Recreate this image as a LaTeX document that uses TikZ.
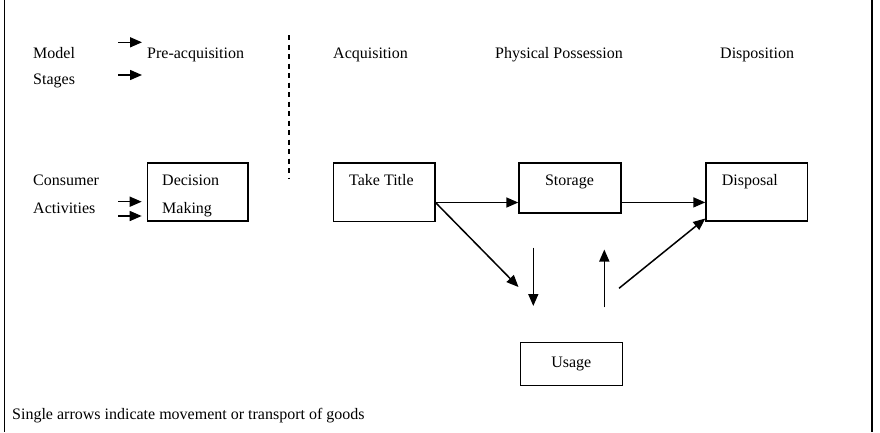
\documentclass[tikz,border=0pt]{standalone}
\usepackage{fontspec}
\setmainfont{Liberation Serif}
\usetikzlibrary{arrows.meta,calc}
\begin{document}
\begin{tikzpicture}[x=1pt,y=-1pt,
  txt/.style={font=\fontsize{16}{19}\selectfont, inner sep=0pt, anchor=base west},
  box/.style={draw, line width=1.5pt, inner sep=0pt, anchor=north west},
  arr/.style={line width=1.5pt, -{Triangle[length=12pt,width=10pt]}},
  frameline/.style={line width=1.4pt},
  divider/.style={line width=1.8pt, dash pattern=on 5pt off 4.5pt}]
\useasboundingbox (0,0) rectangle (880,432);
% side frame lines
\draw[frameline] (4.5,0) -- (4.5,432);
\draw[frameline] (872,0) -- (872,432);

% header texts
\node[txt] (model) at (33,58) {Model};
\node[txt] (stages) at (33,84.5) {Stages};
\node[txt] (pre) at (147,58) {Pre-acquisition};
\node[txt] (acq) at (333,58) {Acquisition};
\node[txt] (phys) at (495,58) {Physical Possession};
\node[txt] (disp) at (720,58) {Disposition};
\node[txt] (cons) at (33,185) {Consumer};
\node[txt] (act) at (33,213) {Activities};

% model stage arrows
\coordinate (m1s) at (118,42.3);
\coordinate (m1e) at (142,42.3);
\coordinate (m2s) at (118,75);
\coordinate (m2e) at (142,75);
\draw[arr] (m1s) -- (m1e);
\draw[arr] (m2s) -- (m2e);

% dashed divider
\coordinate (d1) at (289,35);
\coordinate (d2) at (289,178);
\draw[divider] (d1) -- (d2);

% boxes
\node[box, minimum width=100.6pt, minimum height=57.7pt] (dm) at (146.7,162.3) {};
\node[txt] (dmt1) at (162,185) {Decision};
\node[txt] (dmt2) at (162,213) {Making};

\node[box, minimum width=101.5pt, minimum height=58.5pt] (tt) at (332.5,162.3) {};
\node[txt] (ttt) at (349,185.5) {Take Title};

\node[box, minimum width=101.7pt, minimum height=49.7pt] (st) at (518.3,162.3) {};
\node[txt, anchor=base] (stt) at (569.5,185.5) {Storage};

\node[box, minimum width=101.4pt, minimum height=57.7pt] (ds) at (705.3,162.3) {};
\node[txt] (dst) at (721.7,185.5) {Disposal};

\node[box, minimum width=102pt, minimum height=43pt] (us) at (519.5,341.5) {};
\node[txt, anchor=center] (ust) at (us.center) {Usage};

% consumer activity arrows
\coordinate (c1) at (118,201.7);
\coordinate (c2) at (118,216);
\draw[arr] (c1) -- ([xshift=-5pt]dm.west |- c1);
\draw[arr] (c2) -- ([xshift=-5pt]dm.west |- c2);

% flow arrows
\coordinate (ttout) at ([yshift=-10.2pt]tt.east);
\draw[arr] (ttout) -- (ttout -| st.west);
\coordinate (stout) at ([yshift=-14.5pt]st.east);
\draw[arr] (stout) -- (stout -| ds.west);
\coordinate (u1) at (518.5,287);
\draw[arr] (ttout) -- (u1);
\coordinate (dn1) at (533.3,247.7);
\coordinate (dn2) at (533.3,306);
\draw[arr] (dn1) -- (dn2);
\coordinate (up1) at (604.3,307.3);
\coordinate (up2) at (604.3,249.5);
\draw[arr] (up1) -- (up2);
\coordinate (u2) at (619,288.3);
\draw[arr] (u2) -- ([yshift=3pt]ds.south west);

% footer
\node[txt] (foot) at (12,419) {Single arrows indicate movement or transport of goods};
\end{tikzpicture}
\end{document}
